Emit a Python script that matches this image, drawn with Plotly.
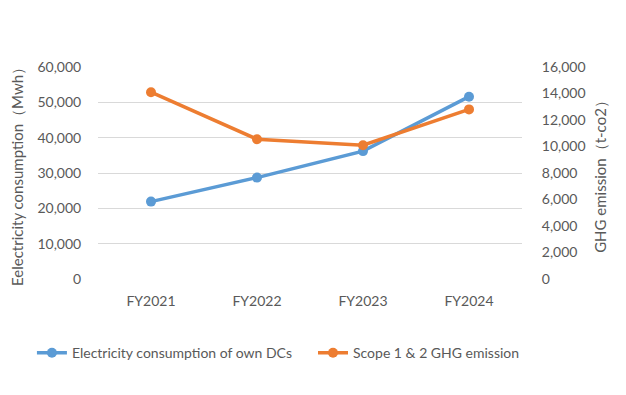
import plotly.graph_objects as go

categories = ["FY2021", "FY2022", "FY2023", "FY2024"]
electricity = [21900, 28700, 36200, 51600]
ghg = [14100, 10550, 10100, 12800]
left_ticks = [0, 10000, 20000, 30000, 40000, 50000, 60000]
right_ticks = [0, 2000, 4000, 6000, 8000, 10000, 12000, 14000, 16000]

font_family = "Lato, Liberation Sans, sans-serif"
grey = "#595959"

fig = go.Figure()
fig.add_trace(go.Scatter(
    x=categories, y=electricity, name="Electricity consumption of own DCs",
    mode="lines+markers", line=dict(color="#5B9BD5", width=3.5),
    marker=dict(size=10, color="#5B9BD5"), yaxis="y", legend="legend"))
fig.add_trace(go.Scatter(
    x=categories, y=ghg, name="Scope 1 & 2 GHG emission",
    mode="lines+markers", line=dict(color="#ED7D31", width=3.5),
    marker=dict(size=10, color="#ED7D31"), yaxis="y2", legend="legend2"))

legend_common = dict(orientation="h", xref="container", xanchor="left",
                     yref="container", y=0.106, yanchor="middle",
                     font=dict(size=14, color=grey), itemwidth=30,
                     bgcolor="rgba(0,0,0,0)")

fig.update_layout(
    width=626, height=395,
    margin=dict(l=98, r=104, t=67, b=116),
    paper_bgcolor="white", plot_bgcolor="white",
    font=dict(family=font_family, size=14, color=grey),
    xaxis=dict(showgrid=False, showline=False, range=[-0.5, 3.5],
               ticks="outside", ticklen=9, tickcolor="rgba(0,0,0,0)",
               automargin=False, tickfont=dict(size=14, color=grey)),
    yaxis=dict(range=[0, 60000], tickvals=left_ticks, tickformat=",",
               showgrid=True, gridcolor="#D9D9D9", gridwidth=1, zeroline=False,
               ticks="outside", ticklen=13, tickcolor="rgba(0,0,0,0)", automargin=False,
               tickfont=dict(size=14, color=grey),
               title=dict(text="Eelectricity consumption（Mwh）", standoff=10,
                          font=dict(size=15, color=grey))),
    yaxis2=dict(range=[0, 16000], tickvals=right_ticks, tickformat=",",
                overlaying="y", side="right", showgrid=False, zeroline=False,
                ticks="outside", ticklen=16, tickcolor="rgba(0,0,0,0)", automargin=False,
                tickfont=dict(size=14, color=grey),
                title=dict(text="GHG emission（t-co2）", standoff=10,
                           font=dict(size=15, color=grey))),
    legend=dict(x=0.051, **legend_common),
    legend2=dict(x=0.5, **legend_common),
    showlegend=True,
)

fig.write_html("out.html", post_script="document.body.style.margin='0';",
               config={"displayModeBar": False})
